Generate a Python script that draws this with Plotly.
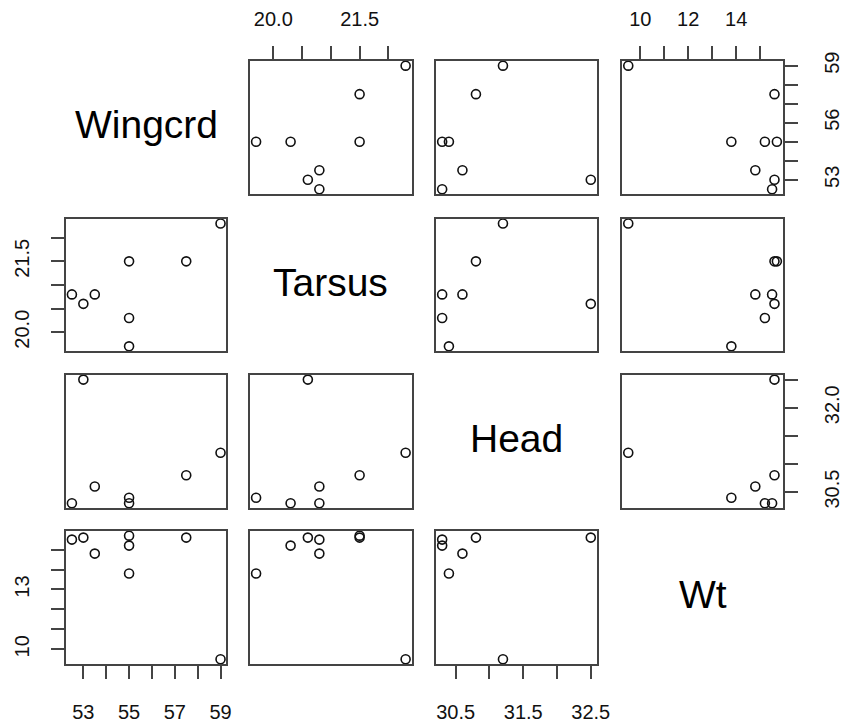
import numpy as np
import plotly.graph_objects as go

# Measurements for eight birds (Head missing for one of them)
names = ["Wingcrd", "Tarsus", "Head", "Wt"]
wingcrd = [59, 57.5, 55, 55, 55, 53.5, 53, 52.5]
tarsus = [22.3, 21.5, 21.5, 20.3, 19.7, 20.8, 20.6, 20.8]
head = [31.2, 30.8, None, 30.3, 30.4, 30.6, 32.5, 30.3]
wt = [9.5, 15.6, 15.7, 15.2, 13.8, 14.8, 15.6, 15.5]

# Tick positions and the labels shown on each outer side
wingcrd_ticks = [53, 54, 55, 56, 57, 58, 59]
wingcrd_bottom = ["53", "", "55", "", "57", "", "59"]
wingcrd_right = ["53", "", "", "56", "", "", "59"]
tarsus_ticks = [20.0, 20.5, 21.0, 21.5, 22.0]
tarsus_top = ["20.0", "", "", "21.5", ""]
tarsus_left = ["20.0", "", "", "21.5", ""]
head_ticks = [30.5, 31.0, 31.5, 32.0, 32.5]
head_bottom = ["30.5", "", "31.5", "", "32.5"]
head_right = ["30.5", "", "", "32.0", ""]
wt_ticks = [10, 11, 12, 13, 14, 15]
wt_top = ["10", "", "12", "", "14", ""]
wt_left = ["10", "", "", "13", "", ""]

data = [np.array(v, dtype=float) for v in (wingcrd, tarsus, head, wt)]
ticks = [wingcrd_ticks, tarsus_ticks, head_ticks, wt_ticks]
x_labels = {0: ("bottom", wingcrd_bottom), 1: ("top", tarsus_top),
            2: ("bottom", head_bottom), 3: ("top", wt_top)}
y_labels = {0: ("right", wingcrd_right), 1: ("left", tarsus_left),
            2: ("right", head_right), 3: ("left", wt_left)}


def padded_range(v):
    lo, hi = np.nanmin(v), np.nanmax(v)
    d = (hi - lo) * 0.04
    return [lo - d, hi + d]


ranges = [padded_range(v) for v in data]

W, H = 849, 723
col_px = [(67, 230), (254, 418), (443, 606), (632, 795)]
row_px = [(53, 190), (215, 351), (375, 512), (535, 672)]

LINE = "#444444"
FONT = "Liberation Sans, Arial, sans-serif"

fig = go.Figure()
layout = dict(
    width=W, height=H, margin=dict(l=0, r=0, t=0, b=0),
    paper_bgcolor="white", plot_bgcolor="white", showlegend=False,
    font=dict(family=FONT, color="black", size=20),
)
annotations = []

for i in range(4):
    for j in range(4):
        k = i * 4 + j + 1
        xa = "xaxis" if k == 1 else f"xaxis{k}"
        ya = "yaxis" if k == 1 else f"yaxis{k}"
        xref = "x" if k == 1 else f"x{k}"
        yref = "y" if k == 1 else f"y{k}"
        x0, x1 = col_px[j]
        y0, y1 = row_px[i]
        xdom = [x0 / W, x1 / W]
        ydom = [1 - y1 / H, 1 - y0 / H]

        xax = dict(domain=xdom, anchor=yref, range=ranges[j], showgrid=False,
                   zeroline=False, showline=True, mirror=True, linecolor=LINE,
                   linewidth=1.8, ticks="", showticklabels=False, fixedrange=True)
        yax = dict(domain=ydom, anchor=xref, range=ranges[i], showgrid=False,
                   zeroline=False, showline=True, mirror=True, linecolor=LINE,
                   linewidth=1.8, ticks="", showticklabels=False, fixedrange=True)

        side, labels = x_labels[j]
        if (side == "top" and i == 0) or (side == "bottom" and i == 3):
            xax.update(side=side, ticks="outside", ticklen=13, tickwidth=1.8,
                       tickcolor=LINE, tickvals=ticks[j], ticktext=labels,
                       showticklabels=True, tickfont=dict(size=20, color="#111"),
                       ticklabelstandoff=12 if side == "top" else 16)
        side, labels = y_labels[i]
        if (side == "left" and j == 0) or (side == "right" and j == 3):
            yax.update(side=side, ticks="outside", ticklen=13, tickwidth=1.8,
                       tickcolor=LINE, tickvals=ticks[i], ticktext=labels,
                       showticklabels=True, tickangle=-90,
                       tickfont=dict(size=20, color="#111"),
                       ticklabelstandoff=14 if side == "left" else 17)

        layout[xa] = xax
        layout[ya] = yax

        if i == j:
            annotations.append(dict(
                text=names[i], x=(xdom[0] + xdom[1]) / 2,
                y=(ydom[0] + ydom[1]) / 2 + 3 / H, xref="paper", yref="paper",
                showarrow=False, font=dict(size=39, color="black", family=FONT),
                xanchor="center", yanchor="middle"))
        else:
            fig.add_trace(go.Scatter(
                x=data[j], y=data[i], mode="markers", xaxis=xref, yaxis=yref,
                marker=dict(symbol="circle-open", size=9, color="#111",
                            line=dict(width=1.6, color="#111")),
                hoverinfo="skip"))

layout["annotations"] = annotations
fig.update_layout(**layout)
fig.write_html("out.html")
